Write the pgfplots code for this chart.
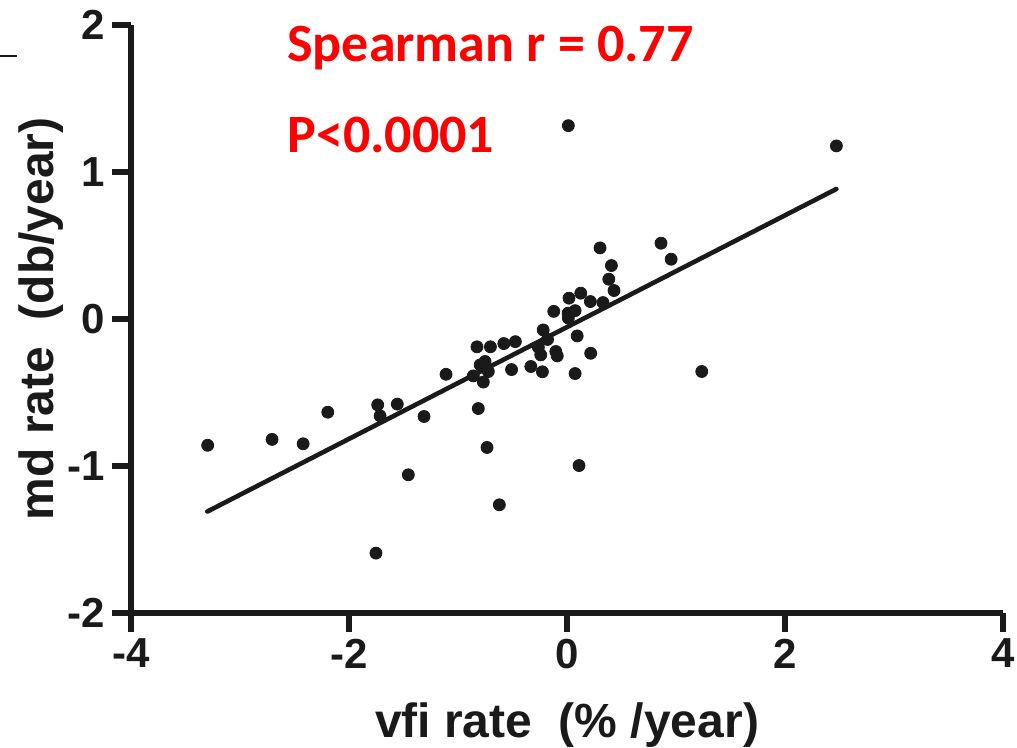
\documentclass[border=0pt]{standalone}
\usepackage{pgfplots}
\pgfplotsset{compat=1.18}
\usepackage{fontspec}
\setmainfont{Liberation Sans}
\newfontfamily\calibri{Carlito}
\definecolor{ink}{HTML}{1A1A1A}
\begin{document}
\begin{tikzpicture}
\begin{axis}[
  scale only axis, width=436.15bp, height=294bp,
  xmin=-4, xmax=4, ymin=-2, ymax=2,
  axis lines=left, axis line style={-, line width=3bp, ink},
  clip=false,
  xtick={-4,-2,0,2,4}, xticklabels={-4,-2,0,2,4},
  ytick={-2,-1,0,1,2}, yticklabels={-2,-1,0,1,2},
  tick align=outside, major tick length=9.5bp,
  tick style={line width=3bp, ink},
  ticklabel style={font=\bfseries\fontsize{21bp}{21bp}\selectfont, text=ink},
  xlabel={vfi rate~~(\% /year)},
  ylabel={md rate~~(db/year)},
  label style={font=\bfseries\fontsize{24bp}{24bp}\selectfont, text=ink},
  xlabel style={at={(axis description cs:0.5,-0.2126)}, anchor=base},
  ylabel style={at={(axis description cs:-0.0894,0.5)}, anchor=base},
]
\coordinate (bbA) at (axis cs:-5.202,2.170);
\coordinate (bbB) at (axis cs:4.128,-2.918);
\draw[line width=1.2bp, ink] (axis cs:-5.202,1.79) -- (axis cs:-5.046,1.79);
\addplot[only marks, mark=*, mark size=3bp, ink] coordinates {
(-3.297,-0.86) (-2.706,-0.82) (-2.421,-0.85) (-2.195,-0.635) (-1.737,-0.585)
(-1.715,-0.66) (-1.557,-0.58) (-1.312,-0.664) (-1.110,-0.377) (-1.456,-1.061)
(-1.753,-1.594) (-0.814,-0.61) (-0.734,-0.875) (-0.621,-1.265) (-0.509,-0.345)
(-0.826,-0.19) (-0.703,-0.19) (-0.580,-0.168) (-0.474,-0.155) (-0.752,-0.29)
(-0.797,-0.313) (-0.860,-0.388) (-0.722,-0.358) (-0.768,-0.43) (-0.332,-0.324)
(-0.226,-0.36) (-0.219,-0.075) (-0.179,-0.14) (-0.263,-0.193) (-0.241,-0.245)
(-0.103,-0.222) (-0.090,-0.252) (-0.122,0.051) (0.010,0.039) (0.012,0.005)
(0.074,0.056) (0.018,0.141) (0.126,0.175) (0.214,0.118) (0.330,0.111)
(0.093,-0.116) (0.217,-0.234) (0.074,-0.372) (0.110,-0.998) (0.012,1.315)
(2.471,1.177) (0.303,0.483) (0.862,0.515) (0.955,0.406) (0.407,0.363)
(0.383,0.27) (0.431,0.193) (1.236,-0.358)
};
\addplot[line width=2.3bp, ink, line cap=round] coordinates {(-3.300,-1.311) (2.471,0.884)};
\node[anchor=base west, text=red, font=\calibri\bfseries\fontsize{27bp}{27bp}\selectfont, inner sep=0pt] at (axis cs:-2.569,1.749) {Spearman r = 0.77};
\node[anchor=base west, text=red, font=\calibri\bfseries\fontsize{27bp}{27bp}\selectfont, inner sep=0pt] at (axis cs:-2.569,1.130) {P<0.0001};
\end{axis}
\pgfresetboundingbox
\path (bbA) rectangle (bbB);
\end{tikzpicture}
\end{document}
